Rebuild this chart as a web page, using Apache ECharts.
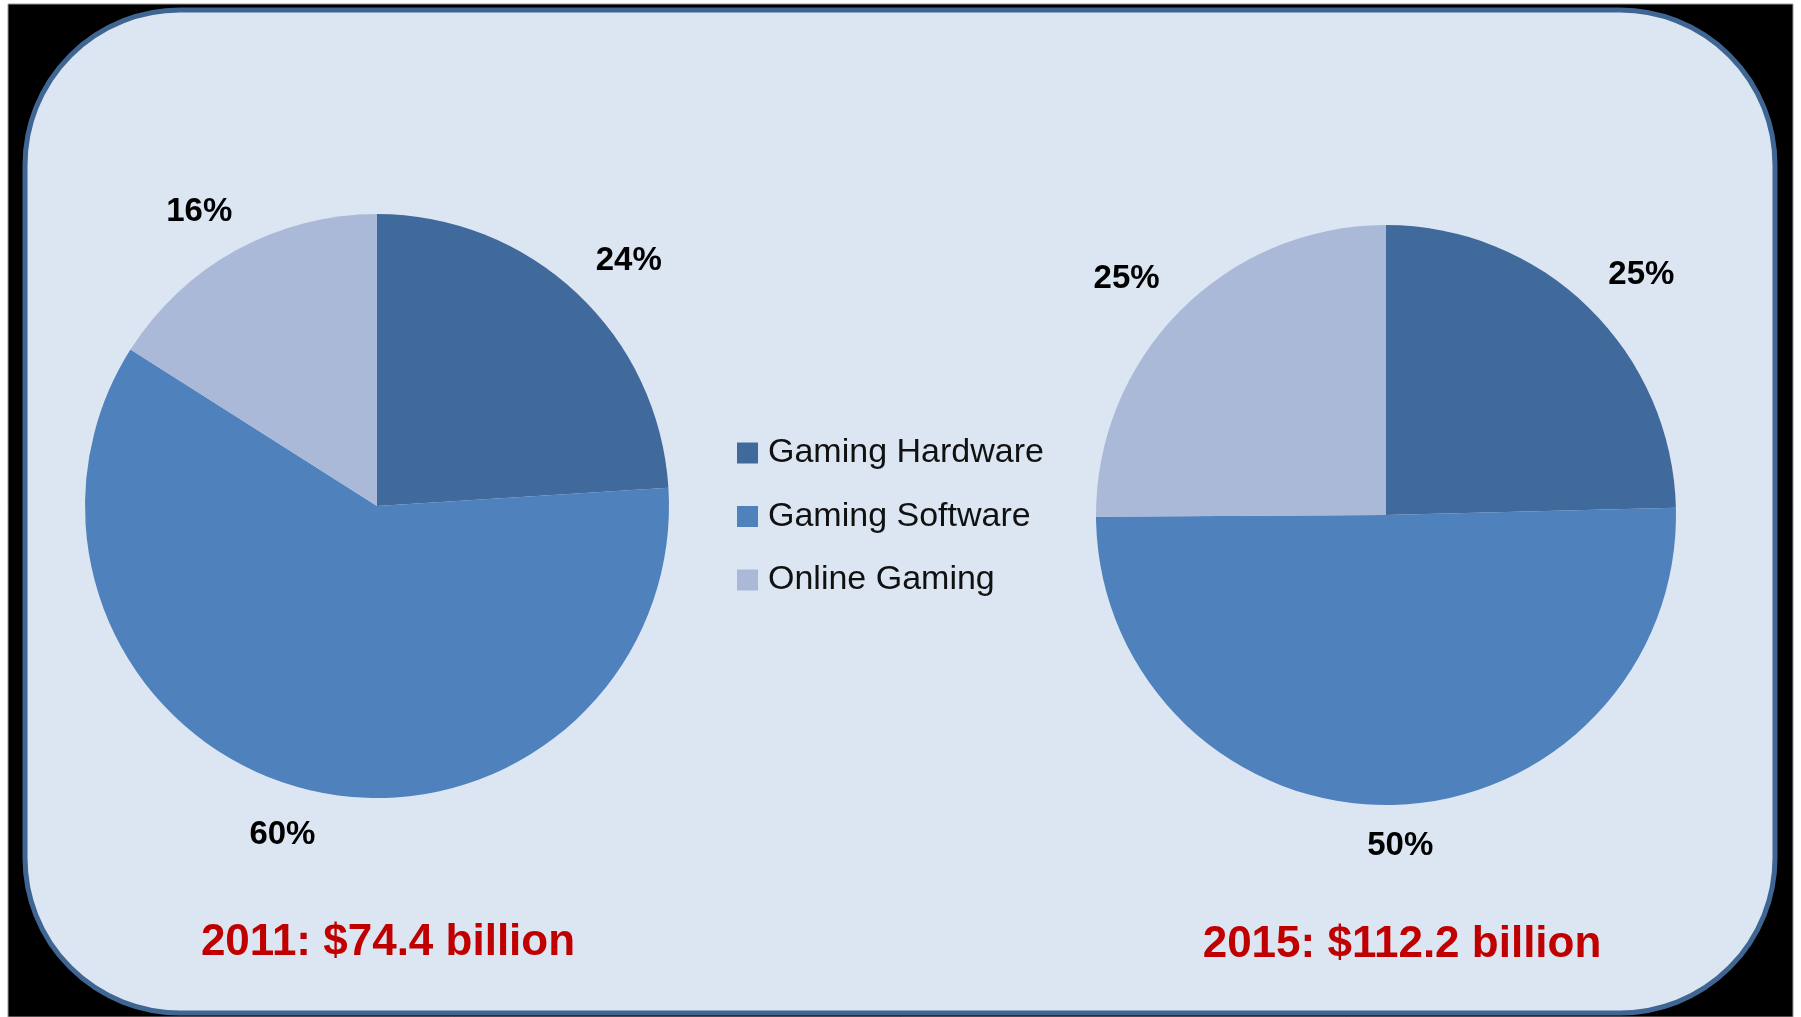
<!DOCTYPE html>
<html>
<head>
<meta charset="utf-8">
<script src="https://cdn.jsdelivr.net/npm/echarts@6/dist/echarts.min.js"></script>
<style>
html,body{margin:0;padding:0;background:#ffffff;}
#chart{width:1801px;height:1017px;}
</style>
</head>
<body>
<div id="chart"></div>
<script>
const categories = ['Gaming Hardware', 'Gaming Software', 'Online Gaming'];
const share2011 = [24, 60, 16];
const share2015 = [24.6, 50.3, 25.1];
const titles = ['2011: $74.4 billion', '2015: $112.2 billion'];
const colors = ['#406a9b', '#4f81bd', '#aab9d7'];

const chart = echarts.init(document.getElementById('chart'));

const LABEL_GAP = 25;

function mkData(vals, transparent) {
  return categories.map((c, i) => ({
    name: c, value: vals[i],
    itemStyle: { color: transparent ? 'rgba(0,0,0,0)' : colors[i] }
  }));
}

function pieSeries(vals, center, r) {
  return {
    type: 'pie',
    center: center,
    radius: r,
    startAngle: 90,
    clockwise: true,
    silent: true,
    animation: false,
    label: { show: false },
    labelLine: { show: false },
    itemStyle: { borderWidth: 0 },
    data: mkData(vals, false)
  };
}

// labels placed like "best fit": box edge a fixed gap outside the circle
function labelSeries(vals, center, r) {
  return {
    type: 'pie',
    center: center,
    radius: [r, r + 2 * LABEL_GAP],
    startAngle: 90,
    clockwise: true,
    silent: true,
    animation: false,
    legendHoverLink: false,
    itemStyle: { borderWidth: 0 },
    label: {
      show: true,
      position: 'inside',
      color: '#000000',
      fontFamily: 'Liberation Sans',
      fontWeight: 'bold',
      fontSize: 33,
      formatter: p => Math.round(p.percent) + '%'
    },
    labelLine: { show: false },
    labelLayout: function (params) {
      const lr = params.labelRect;
      const mx = lr.x + lr.width / 2 - center[0];
      const my = lr.y + lr.height / 2 - center[1];
      const len = Math.sqrt(mx * mx + my * my) || 1;
      const ux = mx / len, uy = my / len;
      const ext = Math.abs(ux) * lr.width / 2 + Math.abs(uy) * lr.height / 2;
      return {
        dx: ux * ext + Math.sign(ux) * 9,
        dy: uy * ext - Math.sign(uy) * 8.5 + 4.5
      };
    },
    emphasis: { disabled: true },
    data: mkData(vals, true)
  };
}

const option = {
  backgroundColor: '#ffffff',
  animation: false,
  graphic: [
    { type: 'rect', z: -10, shape: { x: 8, y: 4, width: 1785, height: 1013 }, style: { fill: '#000000', stroke: '#9a9a9a', lineWidth: 1 } },
    { type: 'rect', z: -9, shape: { x: 25, y: 10, width: 1750, height: 1003, r: 155 }, style: { fill: '#dce6f2', stroke: '#3f6593', lineWidth: 5 } }
  ],
  title: [
    { text: titles[0], left: 383, top: 916, textAlign: 'center',
      textStyle: { color: '#c00000', fontFamily: 'Liberation Sans', fontWeight: 'bold', fontSize: 44 } },
    { text: titles[1], left: 1397, top: 918, textAlign: 'center',
      textStyle: { color: '#c00000', fontFamily: 'Liberation Sans', fontWeight: 'bold', fontSize: 44 } }
  ],
  legend: {
    data: categories,
    orient: 'vertical',
    left: 732,
    top: 431,
    itemWidth: 21,
    itemHeight: 21,
    itemGap: 29.5,
    icon: 'rect',
    selectedMode: false,
    textStyle: { color: '#111111', fontFamily: 'Liberation Sans', fontSize: 34, padding: [0, 0, 0, 5] }
  },
  series: [
    pieSeries(share2011, [377, 506], 292),
    pieSeries(share2015, [1386, 515], 290),
    labelSeries(share2011, [377, 506], 292),
    labelSeries(share2015, [1386, 515], 290)
  ]
};
chart.setOption(option);
</script>
</body>
</html>
